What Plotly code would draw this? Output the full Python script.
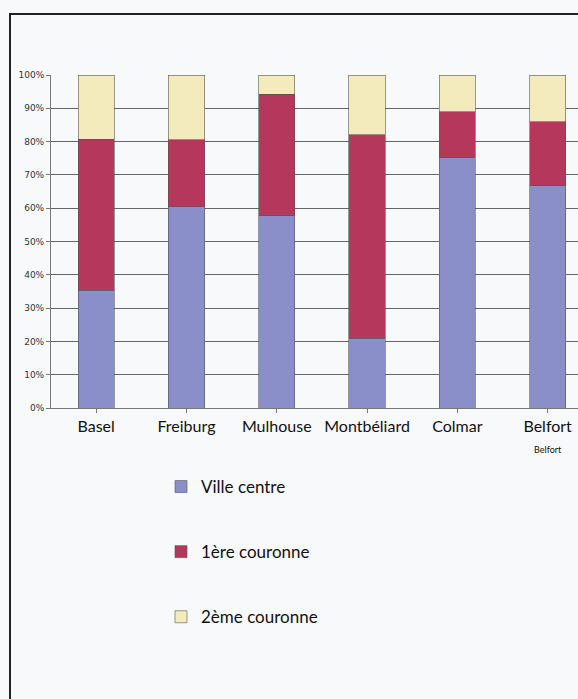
import plotly.graph_objects as go

cities = ["Basel", "Freiburg", "Mulhouse", "Montbéliard", "Colmar", "Belfort"]
ville_centre = [35.3, 60.4, 57.7, 20.9, 75.2, 66.8]
premiere_couronne = [45.4, 20.1, 36.5, 61.1, 13.8, 19.2]
deuxieme_couronne = [19.3, 19.5, 5.8, 18.0, 11.0, 14.0]
series_names = ["Ville centre", "1ère couronne", "2ème couronne"]
colors = ["#8a8fc9", "#b5375b", "#f4ebbd"]
y_ticks = [0, 10, 20, 30, 40, 50, 60, 70, 80, 90, 100]

tick_text = [c for c in cities[:-1]] + ["Belfort<br><span style='font-size:9px'>Belfort</span>"]

fig = go.Figure()
for i, (name, vals) in enumerate(zip(series_names, [ville_centre, premiere_couronne, deuxieme_couronne])):
    fig.add_trace(go.Bar(
        x=list(range(len(cities))), y=vals, name=name,
        marker=dict(color=colors[i], line=dict(color="#555555", width=0.6)),
        legendgroup=name,
    ))

W, H = 578, 699
L, R, T = 51, 0, 75
B = H - 408
pw = W - L - R
ph = H - T - B

def px_x(p):
    return (p - L) / pw

def px_y(p):
    return (H - B - p) / ph

fig.update_layout(
    width=W, height=H,
    margin=dict(l=L, r=R, t=T, b=B),
    barmode="stack", bargap=0.6,
    paper_bgcolor="#f8f9fb", plot_bgcolor="rgba(0,0,0,0)",
    font=dict(family="Lato", color="#111111"),
    showlegend=True,
    legend=dict(
        x=px_x(161), y=px_y(469), xanchor="left", yanchor="top",
        traceorder="grouped", tracegroupgap=40,
        font=dict(family="Lato", size=17, color="#111111"),
        bgcolor="rgba(0,0,0,0)",
    ),
    xaxis=dict(
        range=[-0.5, -0.5 + pw / 90.3],
        tickmode="array", tickvals=list(range(len(cities))), ticktext=tick_text,
        tickfont=dict(family="Lato", size=16, color="#111111"),
        showgrid=False, showline=True, linecolor="#777777", linewidth=1,
        ticks="outside", tickson="boundaries", ticklen=4, tickcolor="#777777",
        zeroline=False, fixedrange=True,
    ),
    yaxis=dict(
        range=[0, 100], tickmode="array", tickvals=y_ticks,
        ticktext=[f"{v}%" for v in y_ticks],
        tickfont=dict(family="DejaVu Sans", size=9, color="#333333"),
        showgrid=True, gridcolor="#666666", gridwidth=1,
        showline=True, linecolor="#777777", linewidth=1,
        ticks="outside", ticklen=4, tickcolor="#777777",
        zeroline=False, fixedrange=True,
    ),
    shapes=[dict(
        type="rect", xref="paper", yref="paper",
        x0=px_x(10), x1=px_x(640), y0=px_y(780), y1=px_y(14),
        line=dict(color="#222222", width=2), fillcolor="rgba(255,255,255,0)",
        layer="below",
    )],
)

fig.write_html(
    "out.html",
    config={"displayModeBar": False},
    post_script="document.body.style.margin='0';document.body.style.overflow='hidden';",
)
